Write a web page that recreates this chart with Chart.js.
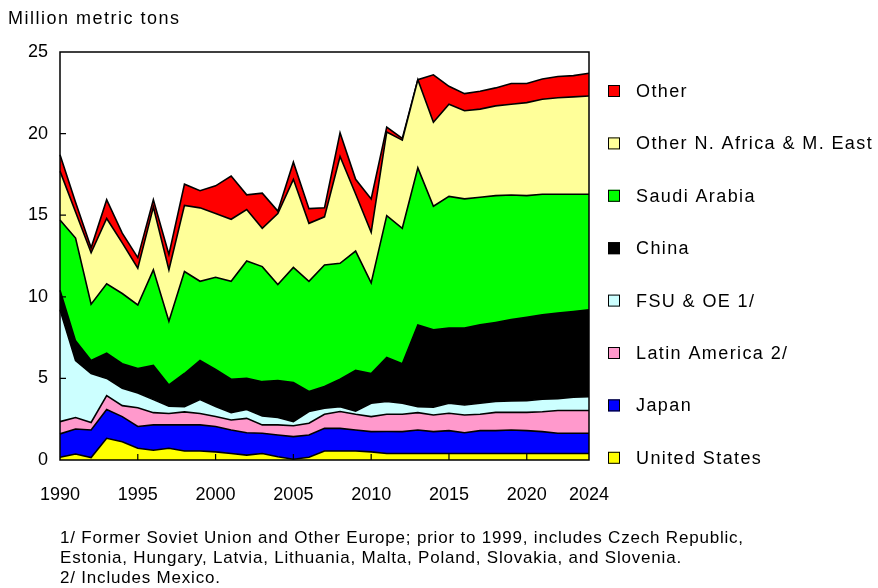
<!DOCTYPE html>
<html>
<head>
<meta charset="utf-8">
<script src="https://cdn.jsdelivr.net/npm/chart.js@4.4.1/dist/chart.umd.min.js"></script>
<style>
  body { margin: 0; background: #fff; font-family: "Liberation Sans", Arial, sans-serif; }
  #wrap { position: relative; width: 878px; height: 588px; }
  #wrap canvas { position: absolute; left: 0; top: 0; }
  #title { position: absolute; left: 8px; top: 8px; font-size: 18px; letter-spacing: 1.5px; color: #000; }
  #notes { position: absolute; left: 60px; top: 528px; font-size: 17px; line-height: 20px; letter-spacing: 0.8px; color: #000; white-space: nowrap; }
</style>
</head>
<body>
<div id="wrap">
  <canvas id="chart" width="878" height="588"></canvas>
  <div id="title">Million metric tons</div>
  <div id="notes">
    1/ Former Soviet Union and Other Europe; prior to 1999, includes Czech Republic,<br>
    Estonia, Hungary, Latvia, Lithuania, Malta, Poland, Slovakia, and Slovenia.<br>
    2/ Includes Mexico.
  </div>
</div>
<script>
// years 1990 - 2024
const years = [];
for (let y = 1990; y <= 2024; y++) years.push(String(y));

const tickYears = ["1990", "1995", "2000", "2005", "2010", "2015", "2020", "2024"];

// million metric tons
const unitedStates = [0.17, 0.37, 0.15, 1.33, 1.12, 0.72, 0.6, 0.72, 0.55, 0.55, 0.5, 0.4, 0.3, 0.4, 0.2, 0.05, 0.17, 0.55, 0.55, 0.55, 0.5, 0.4, 0.4, 0.4, 0.4, 0.4, 0.4, 0.4, 0.4, 0.4, 0.4, 0.4, 0.4, 0.4, 0.4];
const japan = [1.43, 1.53, 1.69, 1.77, 1.54, 1.33, 1.55, 1.43, 1.6, 1.6, 1.55, 1.44, 1.37, 1.24, 1.33, 1.38, 1.36, 1.39, 1.39, 1.29, 1.24, 1.35, 1.34, 1.44, 1.34, 1.4, 1.27, 1.4, 1.4, 1.44, 1.4, 1.34, 1.24, 1.24, 1.24];
const latinAmerica = [0.75, 0.7, 0.46, 0.85, 0.67, 1.15, 0.75, 0.7, 0.8, 0.7, 0.61, 0.61, 0.88, 0.51, 0.62, 0.67, 0.72, 0.86, 1.03, 0.96, 0.92, 1.05, 1.06, 1.06, 1.02, 1.06, 1.09, 1.0, 1.12, 1.08, 1.12, 1.22, 1.39, 1.39, 1.39];
const fsuOE = [6.85, 3.5, 3.0, 1.05, 1.07, 0.9, 0.8, 0.45, 0.32, 0.85, 0.61, 0.45, 0.55, 0.55, 0.45, 0.25, 0.72, 0.37, 0.3, 0.2, 0.82, 0.78, 0.68, 0.37, 0.47, 0.62, 0.61, 0.68, 0.66, 0.7, 0.72, 0.76, 0.73, 0.82, 0.85];
const china = [1.2, 1.2, 0.8, 1.55, 1.5, 1.5, 2.1, 1.3, 2.03, 2.4, 2.28, 2.05, 1.9, 2.1, 2.27, 2.4, 1.23, 1.33, 1.68, 2.5, 1.82, 2.7, 2.42, 5.01, 4.75, 4.6, 4.71, 4.8, 4.85, 4.98, 5.11, 5.18, 5.24, 5.25, 5.32];
const saudiArabia = [4.3, 6.3, 3.45, 4.25, 4.3, 3.9, 5.85, 3.9, 6.25, 4.85, 5.65, 6.0, 7.2, 7.05, 5.88, 7.05, 6.75, 7.45, 7.1, 7.3, 5.55, 8.69, 8.3, 9.62, 7.57, 8.07, 7.92, 7.82, 7.77, 7.64, 7.45, 7.38, 7.28, 7.18, 7.08];
const otherNAfricaME = [3.0, 1.6, 3.15, 4.0, 3.1, 2.25, 3.85, 3.15, 4.05, 4.5, 3.9, 3.8, 3.15, 2.35, 4.35, 5.4, 3.55, 2.95, 6.55, 3.5, 3.1, 5.13, 5.4, 5.4, 5.15, 5.65, 5.4, 5.4, 5.5, 5.56, 5.7, 5.82, 5.92, 5.97, 6.02];
const other = [1.0, 0.6, 0.3, 1.15, 0.6, 0.65, 0.45, 0.95, 1.3, 1.05, 1.7, 2.65, 0.9, 2.15, 0.15, 1.05, 0.9, 0.55, 1.45, 0.9, 2.05, 0.3, 0.1, 0.0, 2.9, 1.1, 1.05, 1.1, 1.1, 1.27, 1.17, 1.25, 1.3, 1.3, 1.4];

const seriesNames = ["United States", "Japan", "Latin America 2/", "FSU & OE 1/", "China", "Saudi Arabia", "Other N. Africa & M. East", "Other"];
const seriesData = [unitedStates, japan, latinAmerica, fsuOE, china, saudiArabia, otherNAfricaME, other];
const seriesColors = ["#FFFF00", "#0000FF", "#FF99CC", "#CCFFFF", "#000000", "#00FF00", "#FFFF99", "#FF0000"];

const FONT = "Liberation Sans, Arial, sans-serif";

// frame, inward tick marks and the legend on the right
const decorations = {
  id: 'decorations',
  afterDatasetsDraw(chart) {
    const ctx = chart.ctx;
    const a = chart.chartArea;
    const xs = chart.scales.x, ys = chart.scales.y;
    ctx.save();
    ctx.strokeStyle = '#000';
    ctx.lineWidth = 1.5;
    ctx.strokeRect(a.left, a.top, a.right - a.left, a.bottom - a.top);

    ctx.lineWidth = 1.2;
    ctx.beginPath();
    for (let v = 5; v < 25; v += 5) {
      const py = ys.getPixelForValue(v);
      ctx.moveTo(a.left, py);
      ctx.lineTo(a.left + 6, py);
    }
    tickYears.slice(1, -1).forEach(t => {
      const px = xs.getPixelForValue(years.indexOf(t));
      ctx.moveTo(px, a.bottom);
      ctx.lineTo(px, a.bottom - 6);
    });
    ctx.stroke();

    // legend, top item = last dataset
    ctx.font = '18px ' + FONT;
    ctx.letterSpacing = '1.4px';
    ctx.textBaseline = 'middle';
    ctx.textAlign = 'left';
    const n = chart.data.datasets.length;
    for (let i = 0; i < n; i++) {
      const ds = chart.data.datasets[n - 1 - i];
      const cy = 91 + i * 52.4;
      ctx.fillStyle = ds.backgroundColor;
      ctx.fillRect(608, cy - 6, 12, 12);
      ctx.lineWidth = 1;
      ctx.strokeStyle = '#000';
      ctx.strokeRect(608.5, cy - 5.5, 11, 11);
      ctx.fillStyle = '#000';
      ctx.fillText(ds.label, 636, cy + 1);
    }
    ctx.restore();
  }
};

const datasets = seriesNames.map((name, i) => ({
  label: name,
  data: seriesData[i],
  backgroundColor: seriesColors[i],
  borderColor: '#000',
  borderWidth: 1.6,
  pointRadius: 0,
  tension: 0,
  fill: i === 0 ? 'origin' : '-1'
}));

new Chart(document.getElementById('chart'), {
  type: 'line',
  data: { labels: years, datasets: datasets },
  plugins: [decorations],
  options: {
    responsive: false,
    animation: false,
    layout: { padding: { left: 0, right: 289, top: 52, bottom: 0 } },
    plugins: {
      legend: { display: false },
      tooltip: { enabled: false }
    },
    scales: {
      x: {
        offset: false,
        grid: { display: false, drawTicks: false },
        border: { display: false },
        afterFit: s => { s.height = 128; },
        ticks: {
          autoSkip: false,
          maxRotation: 0,
          padding: 24,
          color: '#000',
          font: { family: FONT, size: 18 },
          callback: function (v) {
            const lab = this.getLabelForValue(v);
            return tickYears.includes(lab) ? lab : '';
          }
        }
      },
      y: {
        stacked: true,
        min: 0,
        max: 25,
        grid: { display: false, drawTicks: false },
        border: { display: false },
        afterFit: s => { s.width = 60; },
        ticks: {
          stepSize: 5,
          padding: 12,
          color: '#000',
          font: { family: FONT, size: 18 }
        }
      }
    }
  }
});
</script>
</body>
</html>
